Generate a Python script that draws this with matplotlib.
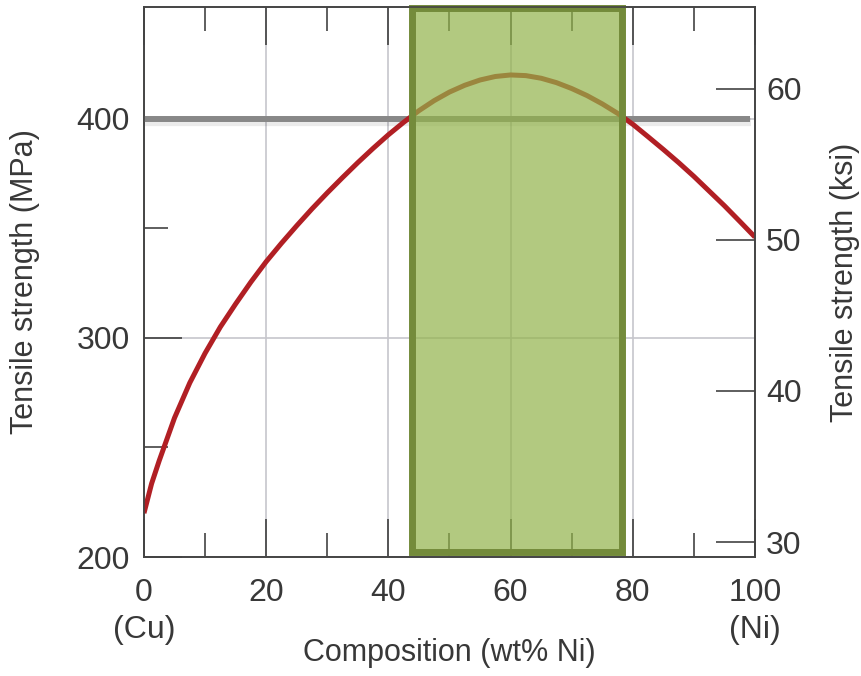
import matplotlib
matplotlib.use("Agg")
import matplotlib.pyplot as plt
import matplotlib.patheffects as pe
from matplotlib.patches import Rectangle
from matplotlib.ticker import MultipleLocator, FixedLocator
from matplotlib.transforms import blended_transform_factory

plt.rcParams['font.family'] = ['Liberation Sans', 'DejaVu Sans']

# Tensile strength of Cu-Ni alloys versus composition
composition = [0, 1.25, 2.5, 5, 7.5, 10, 12.5, 15, 17.5, 20, 22.5, 25, 27.5,
               30, 32.5, 35, 37.5, 40, 42.5, 45, 47.5, 50, 52.5, 55, 57.5,
               60, 62.5, 65, 67.5, 70, 72.5, 75, 77.5, 80, 82.5, 85, 87.5,
               90, 92.5, 95, 97.5, 100]
strength_mpa = [220, 233.5, 244, 263.5, 279.5, 293, 305, 315.5, 325.5, 334.8,
                343.2, 351.2, 358.9, 366.2, 373.2, 380, 386.5, 392.7, 398.4,
                403.7, 408.3, 412.2, 415.3, 417.7, 419.3, 420.0, 419.7,
                418.5, 416.5, 413.8, 410.6, 406.8, 402.5, 397.5, 391.8, 386,
                380, 373.7, 367, 360.3, 353.2, 346]

threshold_mpa = 400              # required minimum strength
window = (43.9, 78.2)            # composition range meeting the requirement
mpa_per_ksi = 6.895

xticks = [0, 20, 40, 60, 80, 100]
xtick_labels = ["0\n(Cu)", "20", "40", "60", "80", "100\n(Ni)"]
yticks_mpa = [200, 300, 400]
yticks_ksi = [30, 40, 50, 60]

text_color = '#383838'
y_lo, y_hi = 200, 451
tick_fs = 23
label_fs = 22

fig = plt.figure(figsize=(8.61, 6.76), dpi=100)
ax = fig.add_axes([0.1672, 0.1760, 0.7097, 0.8136])

ax.set_xlim(0, 100)
ax.set_ylim(y_lo, y_hi)

# grid
ax.set_xticks(xticks)
ax.set_xticklabels(xtick_labels)
ax.xaxis.set_minor_locator(MultipleLocator(10))
ax.set_yticks(yticks_mpa)
ax.yaxis.set_minor_locator(FixedLocator([250, 350]))
ax.grid(True, which='major', color='#c6c6cc', linewidth=1.2, zorder=0)

for s in ax.spines.values():
    s.set_color('#444444')
    s.set_linewidth(1.2)

ax.tick_params(which='both', direction='in', top=True, right=False,
               color='#333333', width=1.1, labelsize=tick_fs,
               labelcolor=text_color)
ax.tick_params(axis='x', which='major', length=27.5, pad=15)
ax.tick_params(axis='x', which='minor', length=17)
ax.tick_params(axis='y', which='major', length=27.5, pad=10)
ax.tick_params(axis='y', which='minor', length=17.5)
for lab in ax.get_xticklabels():
    lab.set_linespacing(1.3)

# threshold line with a soft shadow
ax.plot([0, 99.2], [threshold_mpa, threshold_mpa], color='#888888',
        linewidth=4.3, solid_capstyle='butt', zorder=3,
        path_effects=[pe.SimpleLineShadow(offset=(0.5, -2.5), shadow_color='k',
                                          alpha=0.08, linewidth=6),
                      pe.Normal()])

# strength curve
ax.plot(composition, strength_mpa, color='#b11f24', linewidth=3.6,
        solid_capstyle='butt', solid_joinstyle='round', zorder=4)

# highlighted composition window
trans = blended_transform_factory(ax.transData, ax.transAxes)
fill = Rectangle((window[0], 0.009), window[1] - window[0], 0.989,
                 transform=trans, facecolor=(146/255, 179/255, 74/255),
                 alpha=0.7, edgecolor='none', zorder=5, clip_on=False)
ax.add_patch(fill)
border = Rectangle((window[0], 0.009), window[1] - window[0], 0.989,
                   transform=trans, facecolor='none', edgecolor='#748b3b',
                   linewidth=5.0, zorder=6, clip_on=False)
ax.add_patch(border)

ax.set_xlabel('Composition (wt% Ni)', fontsize=label_fs, color=text_color)
ax.xaxis.set_label_coords(0.5, -0.148)
ax.set_ylabel('Tensile strength (MPa)', fontsize=label_fs, color=text_color)
ax.yaxis.set_label_coords(-0.17, 0.5)

# secondary scale in ksi
ax2 = ax.twinx()
ax2.set_ylim(y_lo / mpa_per_ksi, y_hi / mpa_per_ksi)
ax2.set_yticks(yticks_ksi)
ax2.tick_params(axis='y', direction='in', length=28, width=1.1,
                color='#333333', labelsize=tick_fs, labelcolor=text_color,
                pad=8)
for s in ax2.spines.values():
    s.set_color('#444444')
    s.set_linewidth(1.2)
ax2.set_ylabel('Tensile strength (ksi)', fontsize=label_fs, color=text_color)
ax2.yaxis.set_label_coords(1.122, 0.5)

fig.savefig('out.png', dpi=100)
